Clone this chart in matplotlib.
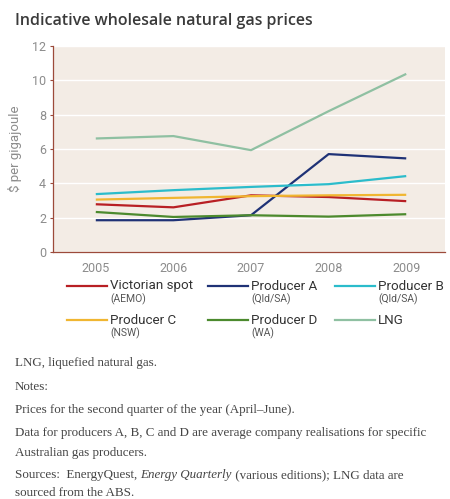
import matplotlib
matplotlib.use("Agg")
from matplotlib import pyplot as plt
from matplotlib.lines import Line2D

years = [2005, 2006, 2007, 2008, 2009]
victorian = [2.78, 2.6, 3.3, 3.2, 2.96]
producer_a = [1.85, 1.85, 2.14, 5.7, 5.45]
producer_b = [3.37, 3.6, 3.79, 3.95, 4.42]
producer_c = [3.05, 3.15, 3.25, 3.3, 3.33]
producer_d = [2.33, 2.04, 2.14, 2.06, 2.2]
lng = [6.61, 6.75, 5.93, 8.2, 10.37]

names = ["Victorian spot", "Producer A", "Producer B", "Producer C", "Producer D", "LNG"]
subs = ["(AEMO)", "(Qld/SA)", "(Qld/SA)", "(NSW)", "(WA)", ""]
series = [victorian, producer_a, producer_b, producer_c, producer_d, lng]
colors = ["#b81f24", "#1f3276", "#2bbccb", "#f0b631", "#4c8a2e", "#8fc0a2"]

cond = ["Roboto", "DejaVu Sans"]
grey = "#8c8c8c"

fig = plt.figure(figsize=(4.5, 4.99), dpi=100)
ax = fig.add_axes([0.118, 0.495, 0.871, 0.413])
ax.set_facecolor("#f3ece5")

for vals, c in zip(series, colors):
    ax.plot(years, vals, color=c, lw=1.6, solid_capstyle="butt")

ax.set_xlim(2004.45, 2009.5)
ax.set_ylim(0, 12)
ax.set_yticks(range(0, 13, 2))
ax.set_xticks(years)
ax.yaxis.grid(True, color="white", lw=1.0)
ax.set_axisbelow(True)
for s in ["top", "right"]:
    ax.spines[s].set_visible(False)
for s in ["left", "bottom"]:
    ax.spines[s].set_color("#9c4a3a")
    ax.spines[s].set_linewidth(0.9)
ax.tick_params(axis="y", length=2, color="#9c4a3a", labelcolor=grey, labelsize=9, pad=3)
ax.tick_params(axis="x", length=0, labelcolor=grey, labelsize=9, pad=7)
for lab in ax.get_xticklabels() + ax.get_yticklabels():
    lab.set_family(cond)
ax.set_ylabel("$ per gigajoule", color=grey, fontsize=9.5, family=cond, labelpad=7)

fig.text(0.033, 0.958, "Indicative wholesale natural gas prices", fontsize=11.5,
         fontweight="semibold", family=["Open Sans", "DejaVu Sans"], color="#3a3a3a", va="center")

# legend built by hand (two-line labels)
col_x = [67, 208, 335]
row_y = [286, 320]
for i, (n, sub, c) in enumerate(zip(names, subs, colors)):
    x0 = col_x[i % 3]
    y0 = row_y[i // 3]
    fig.add_artist(Line2D([x0 / 450, (x0 + 40) / 450], [1 - y0 / 499, 1 - y0 / 499],
                          color=c, lw=1.6, transform=fig.transFigure))
    fig.text((x0 + 43) / 450, 1 - y0 / 499, n, fontsize=9.6, family=cond,
             color="#333333", va="center")
    if sub:
        fig.text((x0 + 43) / 450, 1 - (y0 + 13) / 499, sub, fontsize=7.5, family=cond,
                 color="#555555", va="center")

notes = [
    (363, "LNG, liquefied natural gas."),
    (387, "Notes:"),
    (410, "Prices for the second quarter of the year (April\u2013June)."),
    (433, "Data for producers A, B, C and D are average company realisations for specific"),
    (453, "Australian gas producers."),
    (493, "sourced from the ABS."),
]
serif = ["Liberation Serif", "DejaVu Serif"]
fs = 9.4
for y, t in notes:
    fig.text(15 / 450, 1 - y / 499, t, fontsize=fs, family=serif, color="#444444", va="center")

# sources line with italic title, pieced together
fig.canvas.draw()
r = fig.canvas.get_renderer()
x = 15 / 450
for t, st in [("Sources:  EnergyQuest, ", "normal"), ("Energy Quarterly", "italic"),
              (" (various editions); LNG data are", "normal")]:
    tx = fig.text(x, 1 - 475 / 499, t, fontsize=fs, family=serif, style=st,
                  color="#444444", va="center")
    bb = tx.get_window_extent(r)
    x += bb.width / fig.bbox.width

fig.savefig("out.png", dpi=100)
